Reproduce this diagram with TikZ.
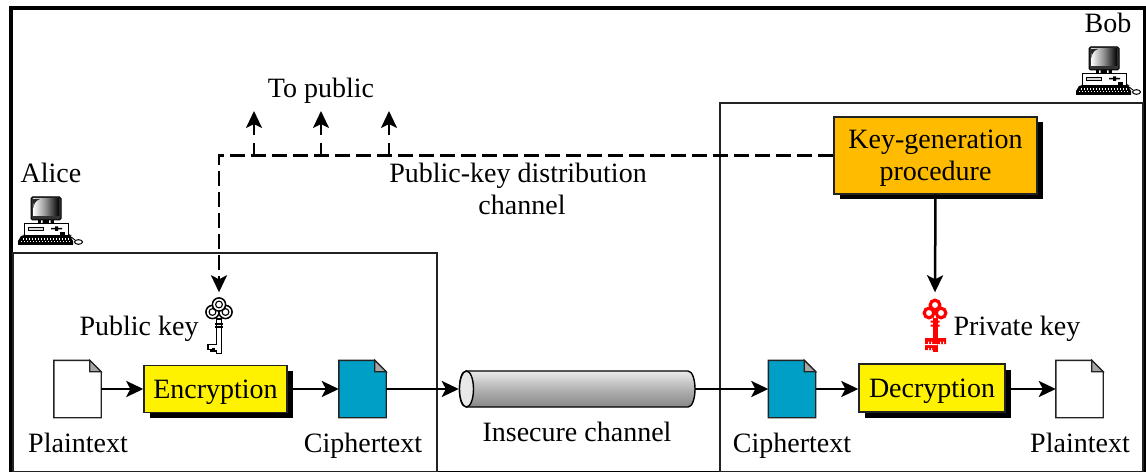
\documentclass[tikz,border=0pt]{standalone}
\usepackage{fontspec}
\setmainfont{Liberation Serif}
\usetikzlibrary{arrows.meta,shadows}
\pgfdeclareverticalshading{tubeshade}{100bp}{
  color(0bp)=(black!40);
  color(25bp)=(black!47);
  color(50bp)=(black!30);
  color(75bp)=(black!8);
  color(100bp)=(black!25)}
\definecolor{docblue}{HTML}{00A0C6}
\definecolor{foldgray}{HTML}{A6A6A6}
\definecolor{boxorange}{HTML}{FFBB00}
\definecolor{lineblack}{HTML}{222222}
\tikzset{
  lbl/.style={inner sep=0pt,anchor=base,font=\fontsize{28}{31}\selectfont},
  region/.style={draw=lineblack,line width=1.8pt},
  docbox/.style={inner sep=0pt,minimum width=47pt,minimum height=57pt},
  procbox/.style={draw=lineblack,line width=1.4pt,inner sep=0pt,
    font=\fontsize{28}{31}\selectfont,align=center,
    drop shadow={shadow xshift=5.5pt,shadow yshift=-5.5pt,fill=black,opacity=1}},
  cipherbox/.style={procbox,fill=yellow,text height=24pt,text depth=6pt},
  flow/.style={line width=2.5pt,-{Stealth[length=17pt,width=16pt,inset=4pt]}},
  dashflow/.style={line width=2.5pt,dash pattern=on 15pt off 6pt,
    -{Stealth[length=17pt,width=16pt,inset=4pt]}},
  stem/.style={line width=2.5pt,dash pattern=on 12pt off 8pt on 30pt off 0pt,
    -{Stealth[length=17pt,width=16pt,inset=4pt]}},
  keyspot/.style={inner sep=0pt,minimum width=26pt,minimum height=61pt},
  computer/.pic={
    \fill[black!75] (4,39) -- (8,36) -- (50,36) -- (54,39) -- cycle;
    \draw[black,line width=1pt,fill=black!80,rounded corners=1.5pt] (13,0) rectangle (43,23);
    \shade[left color=white,right color=black,middle color=black!45] (15,2) rectangle (41,19);
    \fill[black!85] (15,2) -- (22,2) .. controls (17,4) and (16,7) .. (15.5,11) -- cycle;
    \fill[black] (20,23) rectangle (36,27);
    \fill[white] (23,23.5) rectangle (24.5,26) (31,23.5) rectangle (32.5,26);
    \draw[black,line width=1pt,fill=white] (6,27) rectangle (50,39);
    \draw[black,line width=.7pt,fill=black!15] (10,30) rectangle (25,33);
    \fill[black] (33,31) rectangle (44,32.5) (37,29.5) rectangle (40,34);
    \fill[black] (42,35) rectangle (47,38);
    \fill[black] (3,39) -- (52,39) -- (55,44) -- (55,48) -- (0,48) -- (0,44) -- cycle;
    \foreach \q in {5,8,...,50}{\fill[white] (\q,41) rectangle (\q+1.4,42.6);}
    \foreach \q in {3,6,...,51}{\fill[white] (\q,44) rectangle (\q+1.4,45.4);}
    \draw[black,line width=.9pt] (50,38) .. controls (54,41) and (55,41) .. (57,43);
    \draw[black,line width=1pt,fill=white] (60.5,45) ellipse (4pt and 2.3pt);
  },
  whitekey/.pic={
    \fill[white,draw=black,line width=1.3pt] (-7.5,21.5) -- (-2.8,21.5) -- (-2.8,-4) -- (2.8,-4) -- (2.8,30.5) -- (-2.8,30.5) -- (-2.8,28)
      -- (-4.5,28) -- (-4.5,26) -- (-6,26) -- (-6,28) -- (-8,28) -- (-8,26.5) -- (-11,26.5) -- (-11,21.5) -- cycle;
    \draw[black,line width=1.2pt] (-3.8,1) -- (3.8,1) (-3.8,4) -- (3.8,4);
    \foreach \cx/\cy in {-6.5/-11,6.5/-11,0/-18.5}{
      \draw[black,line width=1.5pt,fill=white] (\cx,\cy) circle (6.6pt);
      \draw[black,line width=1.1pt,fill=white] (\cx,\cy) circle (3.4pt);}
  },
  redkey/.pic={
    \fill[red] (-2.5,-5) rectangle (2.5,29);
    \fill[red] (-4.5,-2.5) rectangle (4.5,-.5) (-4.5,1.5) rectangle (4.5,3.5);
    \fill[red] (-10,15) rectangle (11,21) (-10,20) rectangle (2.5,27);
    \fill[white] (-10,21) rectangle (2.5,22)
      (-7,18.5) rectangle (-6,21) (-3.8,18.5) rectangle (-2.8,21) (5,18.5) rectangle (6,21) (8,18.5) rectangle (9,21)
      (-7,25) rectangle (-6,27) (-3.8,25) rectangle (-2.8,27);
    \foreach \cx/\cy in {-6/-10,6/-10,0/-18}{
      \draw[red,line width=3.2pt] (\cx,\cy) circle (4.8pt);}
  }
}
\begin{document}
\begin{tikzpicture}[x=1pt,y=-1pt]
\useasboundingbox[fill=white] (0,0) rectangle (1146,473);
% outer frame
\draw[black,line width=1.8pt] (11,471.5) -- (1144.5,471.5);
\draw[black,line width=2.6pt] (1144.5,8) -- (1144.5,472);
\draw[black,line width=4pt] (11,472) -- (11,8) -- (1146,8);
% regions
\node[region,inner sep=0pt,minimum width=424pt,minimum height=218.5pt] (alicebox) at (225,362.2) {};
\node[region,inner sep=0pt,minimum width=423pt,minimum height=368.5pt] (bobbox) at (931.5,287.2) {};
% computers
\pic at (18,197) {computer};
\pic at (1076,47) {computer};
\node[lbl] (alice) at (51,183) {Alice};
\node[lbl] (bob) at (1108,33) {Bob};
% process boxes
\node[cipherbox,minimum width=143pt,minimum height=47.5pt] (enc) at (215.5,389) {Encryption};
\node[cipherbox,minimum width=146pt,minimum height=48pt] (dec) at (932,388) {Decryption};
\node[procbox,fill=boxorange,minimum width=203pt,minimum height=77pt] (keygen) at (935.5,155.5) {\rule{0pt}{24pt}Key-generation\\[1pt]procedure};
% documents
\foreach \nm/\px/\col in {ptA/77.5/white,ctA/362.5/docblue,ctB/792/docblue,ptB/1079.5/white}{
  \node[docbox] (\nm) at (\px,389) {};
  \draw[fill=\col,draw=lineblack,line width=1.4pt,line join=miter]
    (\nm.north west) -- ([xshift=-11.5pt]\nm.north east) -- ([yshift=-11.5pt]\nm.north east) -- (\nm.south east) -- (\nm.south west) -- cycle;
  \draw[fill=foldgray,draw=lineblack,line width=1.2pt]
    ([xshift=-11.5pt]\nm.north east) -- ([yshift=-11.5pt]\nm.north east) -- ([xshift=-11.5pt,yshift=-11.5pt]\nm.north east) -- cycle;
}
% insecure channel
\node[inner sep=0pt,minimum width=236pt,minimum height=36pt] (tube) at (577,389) {};
\shade[shading=tubeshade,draw=black,line width=1.4pt]
  (466.5,371) -- (688,371) .. controls (692.5,371) and (695,380) .. (695,389) .. controls (695,398) and (692.5,407) .. (688,407) -- (466.5,407) .. controls (461.5,407) and (459.5,398) .. (459.5,389) .. controls (459.5,380) and (461.5,371) .. (466.5,371) -- cycle;
\draw[black,line width=1.4pt,fill=black!9] (466.5,389) ellipse (7pt and 18pt);
% keys
\node[keyspot] (pubkey) at (219,323) {};
\pic at (219,323) {whitekey};
\node[keyspot] (privkey) at (935,323) {};
\pic at (935,323) {redkey};
% main flow
\draw[flow] (ptA.east) -- (enc.west);
\draw[flow] (enc.east) -- (ctA.west);
\draw[flow] (ctA.east) -- (tube.west);
\draw[flow] (tube.east) -- (ctB.west);
\draw[flow] (ctB.east) -- (ctB.east -| dec.west);
\draw[flow] (ptB.west -| dec.east) -- (ptB.west);
\draw[flow] (keygen.south) -- (privkey.north);
% public key distribution
\coordinate (j1) at (254,155); \coordinate (t1) at (254,111);
\coordinate (j2) at (321,155); \coordinate (t2) at (321,111);
\coordinate (j3) at (389,155); \coordinate (t3) at (389,111);
\draw[dashflow] (keygen.west) -| (pubkey.north);
\draw[stem] (j1) -- (t1);
\draw[stem] (j2) -- (t2);
\draw[stem] (j3) -- (t3);
% labels
\node[lbl] (topublic) at (321,98) {To public};
\node[lbl] (pkd) at (518,183) {Public-key distribution};
\node[lbl] (pkdb) at (522,215) {channel};
\node[lbl] (pubkeyl) at (139,335) {Public key};
\node[lbl] (privkeyl) at (1017,335) {Private key};
\node[lbl] (ptAl) at (78,452) {Plaintext};
\node[lbl] (ctAl) at (363,452) {Ciphertext};
\node[lbl] (insecure) at (577,441) {Insecure channel};
\node[lbl] (ctBl) at (792,452) {Ciphertext};
\node[lbl] (ptBl) at (1080,452) {Plaintext};
\end{tikzpicture}
\end{document}
